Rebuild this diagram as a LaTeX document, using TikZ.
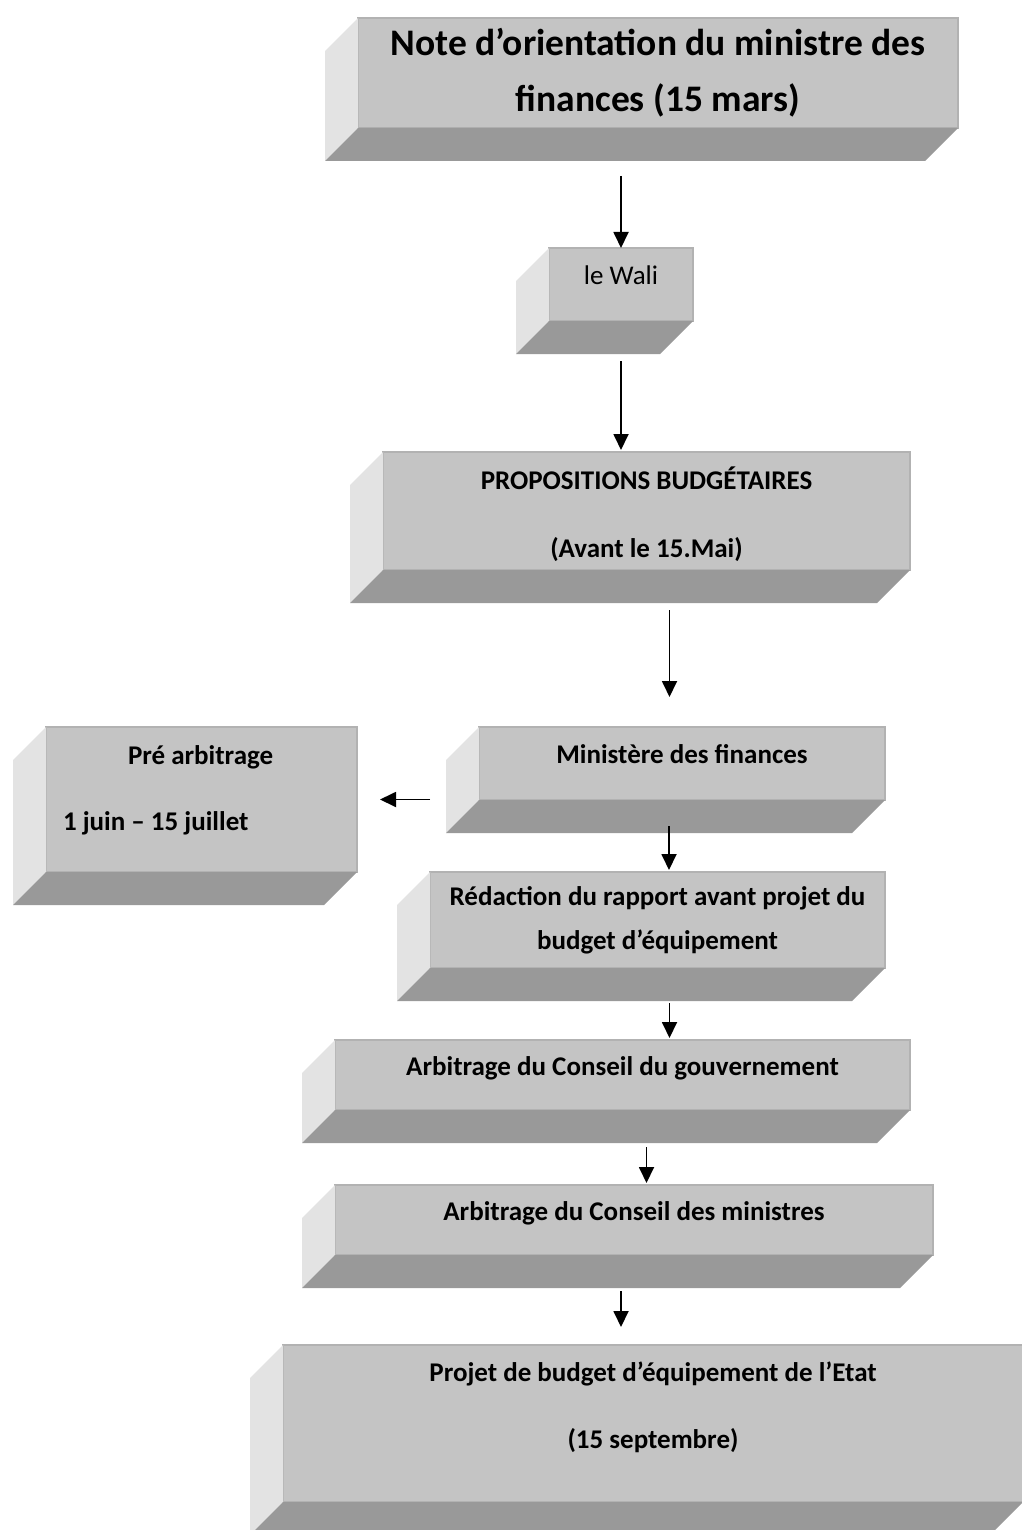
\documentclass[tikz,border=0pt]{standalone}
\usepackage{fontspec}
\setmainfont{Carlito}
\usetikzlibrary{arrows.meta}
\definecolor{slabfront}{RGB}{196,196,196}
\definecolor{slabedge}{RGB}{178,178,178}
\definecolor{slabside}{RGB}{227,227,227}
\definecolor{slabfloor}{RGB}{153,153,153}
\def\bev{33pt}
\tikzset{
  slab/.style 2 args={rectangle, fill=slabfront, draw=slabedge, line width=1.2pt,
    anchor=north west, inner sep=0pt, outer sep=0pt, align=center,
    minimum width=#1, minimum height=#2,
    font=\bfseries\fontsize{27}{33}\selectfont},
  oneline/.style={text height=10pt, text depth=10pt},
  arr/.style={line width=1.8pt, -{Triangle[width=15pt,length=16pt]}},
}
\begin{document}
\begin{tikzpicture}[x=1pt,y=-1pt]
\useasboundingbox (0,0) rectangle (1021,1530);
% the boxes, front faces
\node[slab={600pt}{110pt}, font=\bfseries\fontsize{37.5}{56}\selectfont] (note) at (358,18)
  {Note d’orientation du ministre des\\finances (15 mars)};
\node[slab={144pt}{73pt}, oneline, font=\fontsize{27}{33}\selectfont] (wali) at (549,248) {le Wali};
\node[slab={527pt}{118pt}, text height=92pt, text depth=0pt] (prop) at (383,452)
  {PROPOSITIONS BUDGÉTAIRES\\[35pt](Avant le 15.Mai)};
\node[slab={311pt}{145pt}, align=flush left, text width=277pt, inner xsep=17pt,
  text height=0pt, text depth=71pt] (pre) at (46,727)
  {\hspace*{65pt}Pré arbitrage\\[33pt]1 juin – 15 juillet};
\node[slab={406pt}{73pt}, oneline] (min) at (479,727) {Ministère des finances};
\node[slab={455pt}{96pt}] (red) at (430,872) {Rédaction du rapport avant projet du\\[11pt]budget d’équipement};
\node[slab={575pt}{70pt}, oneline] (gouv) at (335,1040) {Arbitrage du Conseil du gouvernement};
\node[slab={598pt}{70pt}, oneline] (mins) at (335,1185) {Arbitrage du Conseil des ministres};
\node[slab={740pt}{157pt}, text height=49pt, text depth=0pt] (proj) at (283,1345)
  {Projet de budget d’équipement de l’Etat\\[34pt](15 septembre)};
% the bevels, left side and floor
\foreach \b in {note,wali,prop,pre,min,red,gouv,mins,proj}{
  \fill[slabside] (\b.north west) -- ([shift={(-\bev,-\bev)}]\b.north west)
    -- ([shift={(-\bev,-\bev)}]\b.south west) -- (\b.south west) -- cycle;
  \fill[slabfloor] (\b.south west) -- (\b.south east)
    -- ([shift={(-\bev,-\bev)}]\b.south east) -- ([shift={(-\bev,-\bev)}]\b.south west) -- cycle;
}
% arrows
\draw[arr, shorten <=48pt] (note.south -| wali.north) -- (wali.north);
\draw[arr, shorten <=40pt, shorten >=2pt] (wali.south) -- (wali.south |- prop.north);
\draw[arr, shorten <=40pt, shorten >=30pt] ([xshift=23pt]prop.south) -- ([xshift=23pt]prop.south |- min.north);
\draw[arr, shorten <=49pt, shorten >=23pt] (pre.east -| min.west) -- (pre.east);
\draw[arr, shorten <=26pt, shorten >=2pt] ([xshift=-13pt]min.south) -- ([xshift=-13pt]min.south |- red.north);
\draw[arr, shorten <=35pt, shorten >=2pt] ([xshift=12pt]red.south) -- ([xshift=12pt]red.south |- gouv.north);
\draw[arr, shorten <=37pt, shorten >=2pt] ([xshift=24pt]gouv.south) -- ([xshift=24pt]gouv.south |- mins.north);
\draw[arr, shorten <=36pt, shorten >=18pt] ([xshift=-13pt]mins.south) -- ([xshift=-13pt]mins.south |- proj.north);
\end{tikzpicture}
\end{document}
